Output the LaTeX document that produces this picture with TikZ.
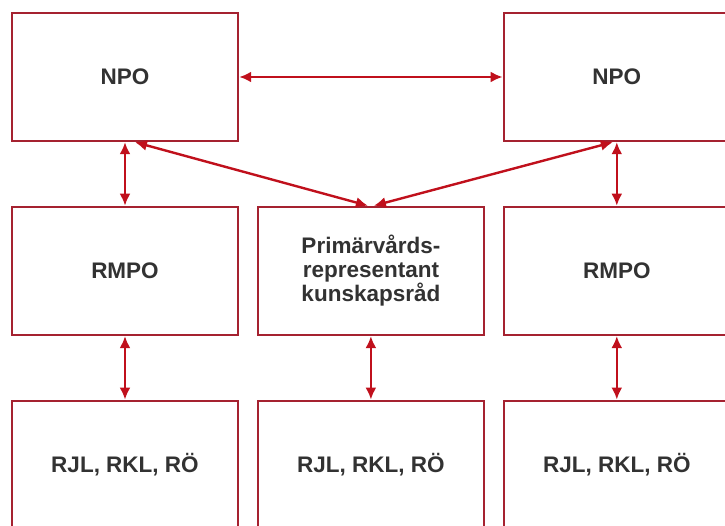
\documentclass[tikz,border=0pt]{standalone}
\usepackage{fontspec}
\setmainfont{Liberation Sans}
\usepackage{xcolor}
\usetikzlibrary{arrows.meta,positioning}

\definecolor{boxred}{RGB}{165,34,48}
\definecolor{arrred}{RGB}{192,16,28}
\definecolor{txtgray}{RGB}{50,50,50}

\begin{document}
\begin{tikzpicture}[x=1pt, y=1pt, node distance=63.5pt and 17.5pt,
	orgbox/.style={rectangle, draw=boxred, line width=2.4pt, fill=white, minimum width=226pt, minimum height=128pt, text=txtgray, font=\bfseries\fontsize{22.5}{24}\selectfont, align=center},
	link/.style={{Latex[length=12pt,width=11pt]}-{Latex[length=12pt,width=11pt]}, line width=2.4pt, draw=arrred}]
				\useasboundingbox (0,0) rectangle (725,-526);
				\clip (0,0) rectangle (725,-526);
				
				\node[orgbox] (npoL) at (125,-77) {NPO};
				\node[orgbox, below=of npoL] (rmpoL) {RMPO};
				\node[orgbox, right=of rmpoL] (prim) {Primärvårds-\\representant\\kunskapsråd};
				\node[orgbox, right=of prim] (rmpoR) {RMPO};
				\node[orgbox, above=of rmpoR] (npoR) {NPO};
				
				\node[orgbox, below=of rmpoL] (regL) {RJL, RKL, RÖ};
				\node[orgbox, below=of prim] (regM) {RJL, RKL, RÖ};
				\node[orgbox, below=of rmpoR] (regR) {RJL, RKL, RÖ};
				
				\draw[link] (npoL) -- (npoR);
				\draw[link] (npoL) -- (rmpoL);
				\draw[link] (npoR) -- (rmpoR);
				\draw[link] ([xshift=10pt]npoL.south) -- ([xshift=-3pt]prim.north);
				\draw[link] ([xshift=-4pt]npoR.south) -- ([xshift=3pt]prim.north);
				
				\draw[link] (rmpoL) -- (regL);
				\draw[link] (prim) -- (regM);
				\draw[link] (rmpoR) -- (regR);
			\end{tikzpicture}
\end{document}
